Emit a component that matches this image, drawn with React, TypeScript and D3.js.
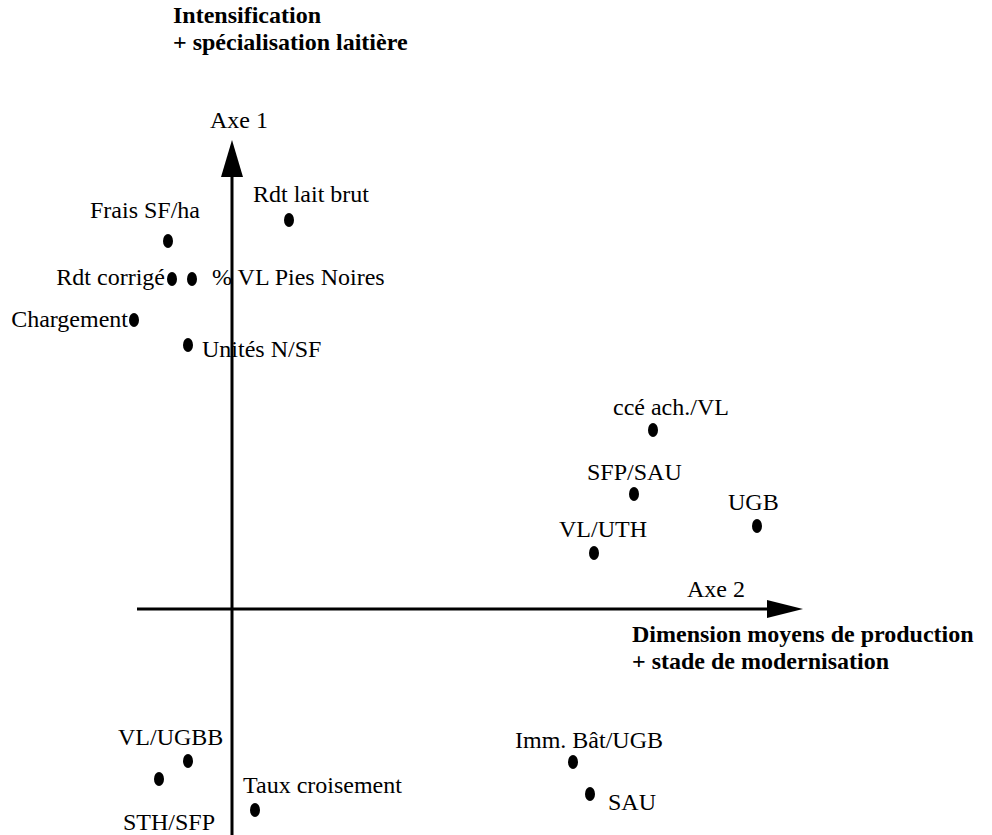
import React from "react";
import * as d3 from "d3";

// variables projected on the first factorial plane (axe 2 horizontal, axe 1 vertical)
const variables = [
  "Frais SF/ha",
  "Rdt lait brut",
  "Rdt corrigé",
  "% VL Pies Noires",
  "Chargement",
  "Unités N/SF",
  "ccé ach./VL",
  "SFP/SAU",
  "UGB",
  "VL/UTH",
  "Imm. Bât/UGB",
  "SAU",
  "VL/UGBB",
  "STH/SFP",
  "Taux croisement",
];
const axe2 = [-0.64, 0.57, -0.6, -0.4, -0.98, -0.44, 4.21, 4.02, 5.25, 3.62, 3.41, 3.58, -0.44, -0.73, 0.23];
const axe1 = [3.68, 3.89, 3.3, 3.3, 2.89, 2.64, 1.79, 1.15, 0.83, 0.56, -1.53, -1.85, -1.52, -1.7, -2.01];

// where each label sits relative to its dot
const labelPlacement: [number, number, string][] = [
  [-23, -23, "middle"],
  [-36, -18, "start"],
  [-7, 6, "end"],
  [20, 6, "start"],
  [-6, 7, "end"],
  [14, 12, "start"],
  [-40, -15, "start"],
  [-47, -14, "start"],
  [-29, -16, "start"],
  [-35, -16, "start"],
  [-58, -14, "start"],
  [18, 16, "start"],
  [-70, -16, "start"],
  [-36, 51, "start"],
  [-12, -17, "start"],
];

const axisTitleTop = ["Intensification", "+ spécialisation laitière"];
const axisTitleRight = ["Dimension moyens de production", "+ stade de modernisation"];

export default function App() {
  const width = 992;
  const height = 835;
  const font = "'Liberation Serif', 'Times New Roman', serif";
  const fs = 24;

  const x = d3.scaleLinear().domain([-1, 6]).range([132, 832]);
  const y = d3.scaleLinear().domain([-3, 5]).range([909, 109]);

  const x0 = x(0);
  const y0 = y(0);
  const hStart = x(-0.95);
  const hTip = x(5.71);
  const vBottom = y(-2.26);
  const vTip = y(4.69);

  const points = variables.map((name, i) => ({ name, cx: x(axe2[i]), cy: y(axe1[i]) }));

  return (
    <svg
      width={width}
      height={height}
      style={{ position: "absolute", left: 0, top: 0, background: "#fff" }}
      fontFamily={font}
    >
      <rect width={width} height={height} fill="#fff" />

      {/* axes with arrow heads */}
      <line x1={x0} y1={vBottom} x2={x0} y2={vTip + 34} stroke="#000" strokeWidth={3} />
      <path d={`M${x0},${vTip} L${x0 - 11},${vTip + 37} L${x0 + 11},${vTip + 37} Z`} fill="#000" />
      <line x1={hStart} y1={y0} x2={hTip - 34} y2={y0} stroke="#000" strokeWidth={3} />
      <path d={`M${hTip},${y0} L${hTip - 36},${y0 - 9} L${hTip - 36},${y0 + 9} Z`} fill="#000" />

      <text x={x0 - 22} y={vTip - 12} fontSize={fs}>Axe 1</text>
      <text x={hTip - 116} y={y0 - 12} fontSize={fs}>Axe 2</text>

      {axisTitleTop.map((t, i) => (
        <text key={t} x={173} y={23 + i * 27} fontSize={fs} fontWeight="bold">{t}</text>
      ))}
      {axisTitleRight.map((t, i) => (
        <text key={t} x={632} y={y0 + 33 + i * 27} fontSize={fs} fontWeight="bold">{t}</text>
      ))}

      {points.map((p, i) => (
        <g key={p.name}>
          <ellipse cx={p.cx} cy={p.cy} rx={5} ry={7} fill="#000" />
          <text
            x={p.cx + labelPlacement[i][0]}
            y={p.cy + labelPlacement[i][1]}
            textAnchor={labelPlacement[i][2]}
            fontSize={fs}
          >
            {p.name}
          </text>
        </g>
      ))}
    </svg>
  );
}
